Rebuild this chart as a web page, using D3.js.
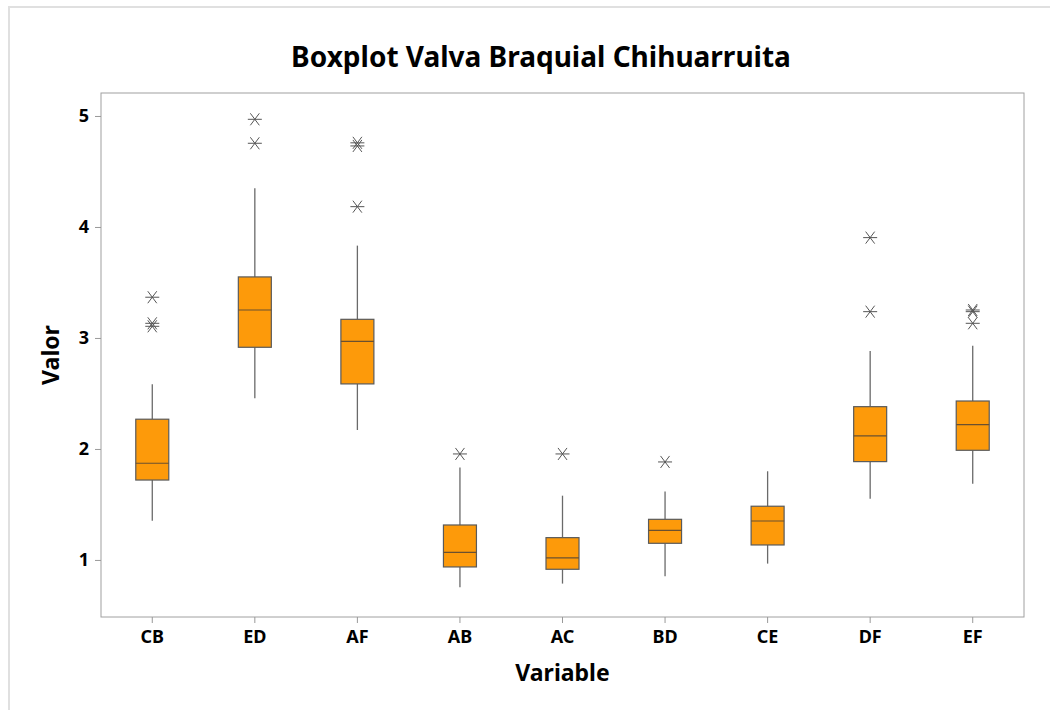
<!DOCTYPE html>
<html lang="es">
<head>
    <meta charset="UTF-8">
    <title>Boxplot Valva Braquial Chihuarruita</title>
    <script src="https://d3js.org/d3.v7.min.js"></script>
    <style>
        body {
            margin: 0;
            padding: 0;
            background-color: #fff;
            font-family: "Noto Sans", "Open Sans", sans-serif;
        }
        .axis text {
            font-family: "Noto Sans", "Open Sans", sans-serif;
            font-size: 18px;
            font-weight: bold;
            fill: #000;
        }
        .axis path, .axis line {
            stroke: #999;
        }
    </style>
</head>
<body>
    <div id="chart"></div>
    <script>
        // categories and five-number summaries
        var categories = ["CB", "ED", "AF", "AB", "AC", "BD", "CE", "DF", "EF"];
        var whiskerLow  = [1.354, 2.457, 2.171, 0.754, 0.787, 0.853, 0.967, 1.552, 1.687];
        var q1Values    = [1.720, 2.916, 2.586, 0.937, 0.916, 1.150, 1.135, 1.886, 1.988];
        var medians     = [1.871, 3.252, 2.970, 1.069, 1.018, 1.267, 1.351, 2.117, 2.219];
        var q3Values    = [2.268, 3.550, 3.168, 1.315, 1.201, 1.366, 1.484, 2.381, 2.432];
        var whiskerHigh = [2.583, 4.349, 3.832, 1.832, 1.579, 1.616, 1.799, 2.883, 2.930];
        var outliers = [
            [3.367, 3.132, 3.105],
            [4.970, 4.754],
            [4.758, 4.730, 4.183],
            [1.955],
            [1.955],
            [1.883],
            [],
            [3.904, 3.237],
            [3.252, 3.237, 3.132]
        ];
        var yTicks = [1, 2, 3, 4, 5];

        var W = 1060, H = 710;
        var margin = { top: 93, right: 36, bottom: 93, left: 101 },
            width = W - margin.left - margin.right,
            height = H - margin.top - margin.bottom;

        var svg = d3.select("#chart")
            .append("svg")
            .attr("width", W)
            .attr("height", H);

        // outer light frame
        svg.append("path")
            .attr("d", "M9,710 V7 H1050")
            .attr("fill", "none")
            .attr("stroke", "#e0e0e0")
            .attr("stroke-width", 2);

        var g = svg.append("g")
            .attr("transform", "translate(" + margin.left + "," + margin.top + ")");

        var x = d3.scaleBand()
            .domain(categories)
            .range([0, width])
            .padding(0);

        var y = d3.scaleLinear()
            .domain([0.486, 5.207])
            .range([height, 0]);

        // plot frame
        g.append("rect")
            .attr("width", width)
            .attr("height", height)
            .attr("fill", "none")
            .attr("stroke", "#a0a0a0")
            .attr("stroke-width", 1);

        // axes
        g.append("g")
            .attr("class", "axis")
            .attr("transform", "translate(0," + height + ")")
            .call(d3.axisBottom(x).tickSize(6).tickPadding(7).tickSizeOuter(0))
            .call(function (a) { a.select(".domain").remove(); });

        g.append("g")
            .attr("class", "axis")
            .call(d3.axisLeft(y).tickValues(yTicks).tickFormat(d3.format("d")).tickSize(6).tickPadding(6).tickSizeOuter(0))
            .call(function (a) { a.select(".domain").remove(); });

        var boxW = 33;
        var data = categories.map(function (c, i) {
            return {
                key: c, lo: whiskerLow[i], q1: q1Values[i], med: medians[i],
                q3: q3Values[i], hi: whiskerHigh[i], out: outliers[i]
            };
        });

        var boxes = g.selectAll(".box")
            .data(data)
            .enter()
            .append("g")
            .attr("class", "box")
            .attr("transform", function (d) { return "translate(" + (x(d.key) + x.bandwidth() / 2) + ",0)"; });

        // whiskers
        boxes.append("line")
            .attr("x1", 0).attr("x2", 0)
            .attr("y1", function (d) { return y(d.q3); })
            .attr("y2", function (d) { return y(d.hi); })
            .attr("stroke", "#6a6a6a").attr("stroke-width", 1.3);
        boxes.append("line")
            .attr("x1", 0).attr("x2", 0)
            .attr("y1", function (d) { return y(d.q1); })
            .attr("y2", function (d) { return y(d.lo); })
            .attr("stroke", "#6a6a6a").attr("stroke-width", 1.3);

        // box
        boxes.append("rect")
            .attr("x", -boxW / 2)
            .attr("width", boxW)
            .attr("y", function (d) { return y(d.q3); })
            .attr("height", function (d) { return y(d.q1) - y(d.q3); })
            .attr("fill", "#fd9a0a")
            .attr("stroke", "#5a5a5a")
            .attr("stroke-width", 1.2);

        // median
        boxes.append("line")
            .attr("x1", -boxW / 2).attr("x2", boxW / 2)
            .attr("y1", function (d) { return y(d.med); })
            .attr("y2", function (d) { return y(d.med); })
            .attr("stroke", "#6a5030").attr("stroke-width", 1.2);

        // outliers as asterisks
        var star = "M-7,0H7M-4.5,-6L4.5,6M-4.5,6L4.5,-6";
        boxes.selectAll(".out")
            .data(function (d) { return d.out; })
            .enter()
            .append("path")
            .attr("class", "out")
            .attr("d", star)
            .attr("transform", function (v) { return "translate(0," + y(v) + ")"; })
            .attr("fill", "none")
            .attr("stroke", "#555")
            .attr("stroke-width", 1);

        // titles
        svg.append("text")
            .attr("x", 541)
            .attr("y", 67)
            .attr("text-anchor", "middle")
            .style("font-size", "28px")
            .style("font-weight", "bold")
            .text("Boxplot Valva Braquial Chihuarruita");

        svg.append("text")
            .attr("x", margin.left + width / 2)
            .attr("y", 681)
            .attr("text-anchor", "middle")
            .style("font-size", "23px")
            .style("font-weight", "bold")
            .text("Variable");

        svg.append("text")
            .attr("transform", "translate(59," + (margin.top + height / 2) + ") rotate(-90)")
            .attr("text-anchor", "middle")
            .style("font-size", "23px")
            .style("font-weight", "bold")
            .text("Valor");
    </script>
</body>
</html>
